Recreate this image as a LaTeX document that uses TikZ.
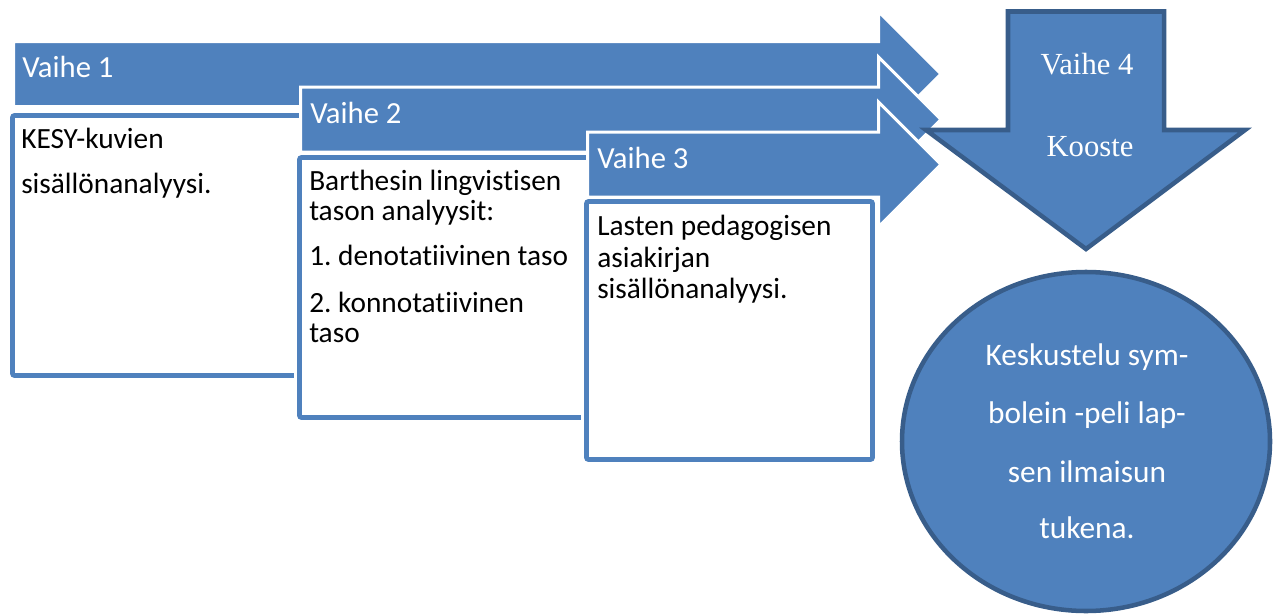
\documentclass[tikz,border=0pt]{standalone}
\usepackage{fontspec}
\setmainfont{Carlito}[Ligatures=NoCommon]
\newfontfamily\phasefont{Liberation Serif}
\definecolor{phaseblue}{RGB}{79,129,189}
\definecolor{phaseedge}{RGB}{56,93,138}
\frenchspacing
\tikzset{
  band/.style={fill=phaseblue, draw=white, line width=2.25pt, line join=miter},
  sheet/.style={fill=white, draw=phaseblue, line width=3.5pt, rounded corners=1.5pt, preaction={draw=white, line width=8pt}},
  solid/.style={fill=phaseblue, draw=phaseedge, line width=3.4pt, line join=miter},
  headtext/.style={anchor=base west, inner sep=0pt, text=white, font=\fontsize{23}{27}\selectfont},
  bodytext/.style={anchor=base west, inner sep=0pt, text=black, font=\fontsize{22}{26}\selectfont},
  ringtext/.style={anchor=base, inner sep=0pt, text=white, font=\fontsize{23.5}{28}\selectfont}
}
\begin{document}
\begin{tikzpicture}[x=0.75pt,y=0.75pt,yscale=-1,xscale=1]
\useasboundingbox (0,0) rectangle (1277,614);

%Shape: Right Arrow (Vaihe 1)
\draw [band] (13.5,41.5) -- (878.5,41.5) -- (878.5,11.5) -- (941,74) -- (878.5,136.5) -- (878.5,106.5) -- (13.5,106.5) -- cycle ;
%Shape: Rectangle (Vaihe 1)
\draw [sheet] (12.5,115.5) rectangle (305,375.5) ;

%Shape: Right Arrow (Vaihe 2)
\draw [band] (300.5,87) -- (878.5,87) -- (878.5,57) -- (941,119.5) -- (878.5,182) -- (878.5,152) -- (300.5,152) -- cycle ;
%Shape: Rectangle (Vaihe 2)
\draw [sheet] (299.5,157.5) rectangle (592,417.5) ;

%Shape: Right Arrow (Vaihe 3)
\draw [band] (587.5,132) -- (878.5,132) -- (878.5,102) -- (941,164.5) -- (878.5,227) -- (878.5,197) -- (587.5,197) -- cycle ;
%Shape: Rectangle (Vaihe 3)
\draw [sheet] (586.5,201.5) rectangle (872.5,459.5) ;

%Shape: Down Arrow (Vaihe 4)
\draw [solid] (1008,11.5) -- (1164,11.5) -- (1164,130) -- (1245,130) -- (1086,249) -- (926,130) -- (1008,130) -- cycle ;
%Shape: Ellipse
\draw [solid] (1086,441.5) ellipse [x radius=184, y radius=169.5] ;

% Text Node
\node (v1) [headtext] at (22,77) {Vaihe 1};
% Text Node
\node (v2) [headtext] at (310,123) {Vaihe 2};
% Text Node
\node (v3) [headtext] at (597,168) {Vaihe 3};
% Text Node
\node (v4) [anchor=base, inner sep=0pt, text=white, font=\phasefont\fontsize{23}{27}\selectfont] at (1087,74) {Vaihe 4};
% Text Node
\node (kooste) [anchor=base, inner sep=0pt, text=white, font=\phasefont\fontsize{23}{27}\selectfont] at (1090,156) {Kooste};

% Text Node
\node (t1a) [bodytext] at (21,148) {KESY-kuvien};
% Text Node
\node (t1b) [bodytext] at (21,193) {sisällönanalyysi.};

% Text Node
\node (t2a) [bodytext] at (309,190) {Barthesin lingvistisen};
% Text Node
\node (t2b) [bodytext] at (309,220) {tason analyysit:};
% Text Node
\node (t2c) [bodytext] at (309,265) {1. denotatiivinen taso};
% Text Node
\node (t2d) [bodytext] at (309,312) {2. konnotatiivinen};
% Text Node
\node (t2e) [bodytext] at (309,342) {taso};

% Text Node
\node (t3a) [bodytext] at (597,235) {Lasten pedagogisen};
% Text Node
\node (t3b) [bodytext] at (597,267) {asiakirjan};
% Text Node
\node (t3c) [bodytext] at (597,298) {sisällönanalyysi.};

% Text Node
\node (c1) [ringtext] at (1087,365) {Keskustelu sym-};
% Text Node
\node (c2) [ringtext] at (1087,423) {bolein -peli lap-};
% Text Node
\node (c3) [ringtext] at (1087,482) {sen ilmaisun};
% Text Node
\node (c4) [ringtext] at (1087,538) {tukena.};

\end{tikzpicture}
\end{document}
